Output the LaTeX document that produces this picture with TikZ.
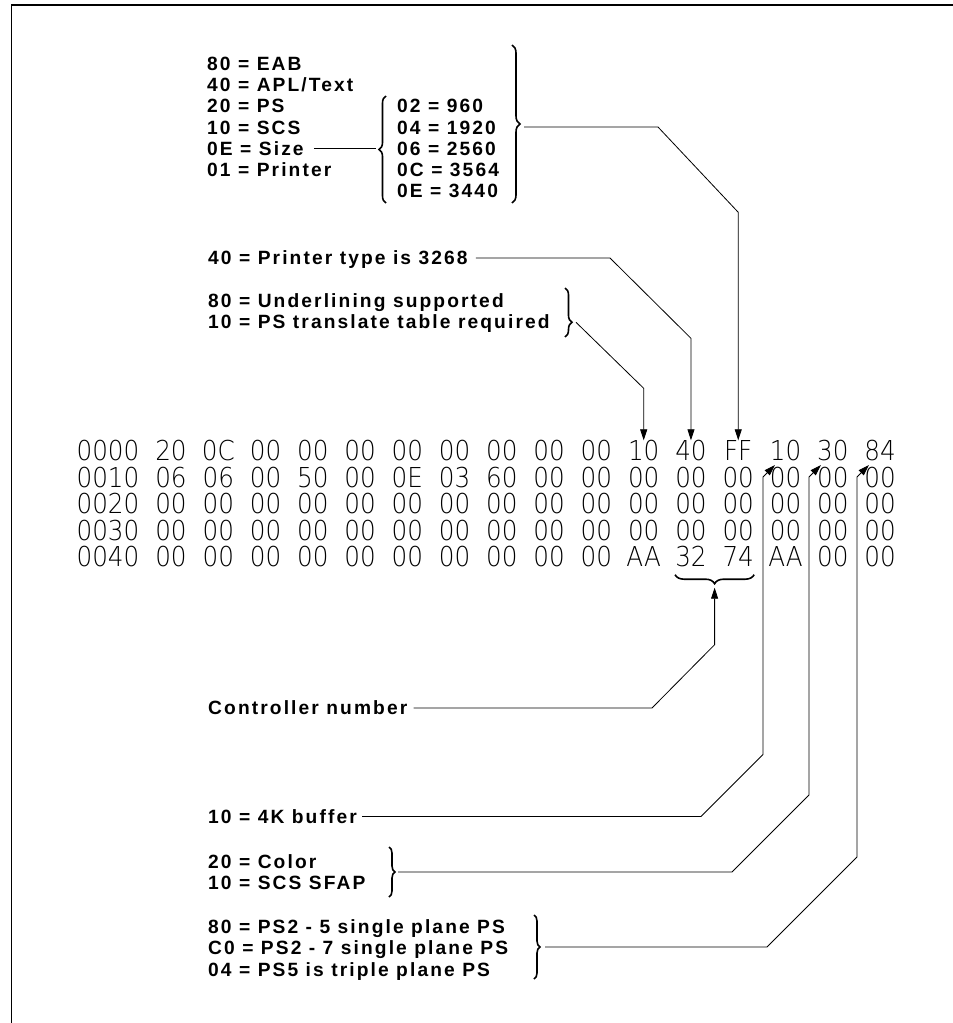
\documentclass[tikz,border=0pt]{standalone}
\usepackage{fontspec}
\usetikzlibrary{arrows.meta,decorations.pathreplacing,calc}
\newfontfamily\lblfont{Liberation Sans}[LetterSpace=11]
\newfontfamily\hexfont{DejaVu Sans ExtraLight}[FakeStretch=0.9]
\tikzset{
  lbl/.style={font=\lblfont\bfseries\fontsize{19.2}{21.3}\selectfont, inner sep=0pt, anchor=west, text height=13.75pt, text depth=0pt},
  hex/.style={font=\hexfont\fontsize{27.4}{30}\selectfont, inner sep=0pt, anchor=base, text height=20pt, text depth=0pt},
  conn/.style={line width=0.8pt, line join=miter},
  arr/.style={conn, -{Triangle[length=11pt,width=7pt]}},
  bracedeco/.style={line width=1.6pt, decorate, decoration={brace, amplitude=#1}},
  bracedeco/.default=7pt
}
\begin{document}
\begin{tikzpicture}[x=1pt,y=-1pt]
\useasboundingbox (0,0) rectangle (953,1023);
% frame
\draw[line width=1.5pt] (11.5,1023) -- (11.5,5) -- (953,5);

% hex dump
\foreach \r/\a/\L in {
  0/0000/{20,0C,00,00,00,00,00,00,00,00,10,40,FF,10,30,84},
  1/0010/{06,06,00,50,00,0E,03,60,00,00,00,00,00,00,00,00},
  2/0020/{00,00,00,00,00,00,00,00,00,00,00,00,00,00,00,00},
  3/0030/{00,00,00,00,00,00,00,00,00,00,00,00,00,00,00,00},
  4/0040/{00,00,00,00,00,00,00,00,00,00,AA,32,74,AA,00,00}}{
  \node[hex] (a\r) at (108,{460.5+26.5*\r}) {\a};
  \foreach \b [count=\c from 0] in \L {
    \node[hex] (r\r-\c) at ({171+47.27*\c},{460.5+26.5*\r}) {\b};
  }
}

% top block
\node[lbl] (eab)  at (207,63.3)  {80 = EAB};
\node[lbl] (apl)  at (207,84.6)  {40 = APL/Text};
\node[lbl] (ps)   at (207,105.9) {20 = PS};
\node[lbl] (scs)  at (207,127.2) {10 = SCS};
\node[lbl] (size) at (207,148.5) {0E = Size};
\node[lbl] (prn)  at (207,169.8) {01 = Printer};
\node[lbl] (s960)  at (397,105.9) {02 = 960};
\node[lbl] (s1920) at (397,127.2) {04 = 1920};
\node[lbl] (s2560) at (397,148.5) {06 = 2560};
\node[lbl] (s3564) at (397,169.8) {0C = 3564};
\node[lbl] (s3440) at (397,191.1) {0E = 3440};
\draw[bracedeco=7pt] (386,203) -- (386,96);
\coordinate (lbtip) at (376,148.5);
\draw[conn] ([xshift=10pt]size.east) -- (lbtip);
\draw[bracedeco=8pt] (512,45) -- (512,203);
\coordinate (rbtip) at (524,127);
\coordinate (b1) at (658,127);
\coordinate (b2) at ($(r0-12.north)+(0,-228)$);
\draw[arr] (rbtip) -- (b1) -- (b2) -- (r0-12.north);

% printer type
\node[lbl] (ptype) at (208,258) {40 = Printer type is 3268};
\coordinate (p1) at (610,258);
\coordinate (p2) at ($(r0-11.north)+(0,-102)$);
\draw[arr] ([xshift=8pt]ptype.east) -- (p1) -- (p2) -- (r0-11.north);

% underlining
\node[lbl] (ul)  at (208,300.5) {80 = Underlining supported};
\node[lbl] (pst) at (208,321.8) {10 = PS translate table required};
\draw[bracedeco=7pt, decoration={aspect=0.7}] (565,288) -- (565,337);
\coordinate (u0) at (576,322.3);
\coordinate (u1) at ($(r0-10.north)+(0,-52)$);
\draw[arr] (u0) -- (u1) -- (r0-10.north);

% controller number
\draw[bracedeco=9pt] ($(r4-12.south east)+(0,8)$) -- ($(r4-11.south west)+(0,8)$);
\coordinate (cbtip) at ($(r4-11.south east)!0.5!(r4-12.south west)+(0,21)$);
\node[lbl] (cn) at (208,708) {Controller number};
\coordinate (c1) at (652,708);
\coordinate (c2) at ($(cbtip)+(0,57)$);
\draw[arr] ([xshift=6pt]cn.east) -- (c1) -- (c2) -- (cbtip);

% 4K buffer
\node[lbl] (kb) at (208,816.5) {10 = 4K buffer};
\coordinate (k1) at (701,816.5);
\coordinate (k2) at (763,754.5);
\coordinate (k3) at (763,477);
\coordinate (k4) at (775,465);
\draw[arr] ([xshift=5pt]kb.east) -- (k1) -- (k2) -- (k3) -- (k4);

% color / SCS SFAP
\node[lbl] (col)  at (208,861.5) {20 = Color};
\node[lbl] (sfap) at (208,883)   {10 = SCS SFAP};
\draw[bracedeco=6pt] (389,847) -- (389,897);
\coordinate (q0) at (398,872);
\coordinate (q1) at (732,872);
\coordinate (q2) at (809,795);
\coordinate (q3) at (809,477);
\coordinate (q4) at (821,465);
\draw[arr] (q0) -- (q1) -- (q2) -- (q3) -- (q4);

% PS2 / PS5
\node[lbl] (ps5a) at (208,926.5) {80 = PS2 - 5 single plane PS};
\node[lbl] (ps7)  at (208,948)   {C0 = PS2 - 7 single plane PS};
\node[lbl] (ps5b) at (208,969.5) {04 = PS5 is triple plane PS};
\draw[bracedeco=6pt] (534,915) -- (534,979);
\coordinate (w0) at (545,947);
\coordinate (w1) at (767,947);
\coordinate (w2) at (857,857);
\coordinate (w3) at (857,477);
\coordinate (w4) at (869,465);
\draw[arr] (w0) -- (w1) -- (w2) -- (w3) -- (w4);
\end{tikzpicture}
\end{document}
